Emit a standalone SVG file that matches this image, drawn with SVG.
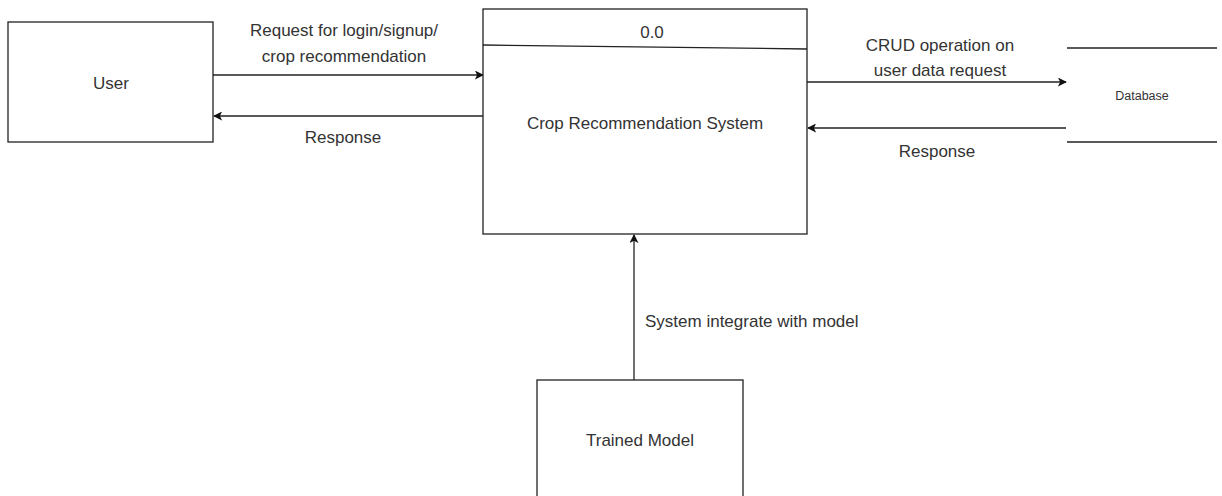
<svg xmlns="http://www.w3.org/2000/svg" width="1222" height="496" viewBox="0 0 1222 496">
<style>
.box{fill:#fff;stroke:#222;stroke-width:1.3}
.ln{stroke:#222;stroke-width:1.3;fill:none}
.t{font-family:"Liberation Sans",Arial,sans-serif;font-size:17px;fill:#333;text-anchor:middle}
.s{font-size:12.5px}
</style>
<defs>
<marker id="ah" viewBox="0 0 10 10" refX="9" refY="5" markerWidth="9" markerHeight="9" markerUnits="userSpaceOnUse" orient="auto">
<path d="M0,0 L10,5 L0,10 L2.5,5 Z" fill="#111"/>
</marker>
</defs>
<rect width="1222" height="496" fill="#fff"/>
<g id="connectors">
<line class="ln" x1="213" y1="75" x2="483" y2="75" marker-end="url(#ah)"/>
<line class="ln" x1="483" y1="116" x2="214" y2="116" marker-end="url(#ah)"/>
<line class="ln" x1="807" y1="82" x2="1066" y2="82" marker-end="url(#ah)"/>
<line class="ln" x1="1066" y1="128" x2="808" y2="128" marker-end="url(#ah)"/>
<line class="ln" x1="634" y1="380" x2="634" y2="235" marker-end="url(#ah)"/>
<text class="t" x="344" y="36">Request for login/signup/</text>
<text class="t" x="344" y="62">crop recommendation</text>
<text class="t" x="343" y="143">Response</text>
<text class="t" x="940" y="51">CRUD operation on</text>
<text class="t" x="940" y="76">user data request</text>
<text class="t" x="937" y="157">Response</text>
<text class="t" x="645" y="327" style="text-anchor:start">System integrate with model</text>
</g>
<g id="user">
<rect class="box" x="8" y="22" width="205" height="120"/>
<text class="t" x="111" y="89">User</text>
</g>
<g id="system">
<rect class="box" x="483" y="9" width="324" height="225"/>
<line class="ln" x1="483" y1="45" x2="807" y2="49"/>
<text class="t" x="652" y="38">0.0</text>
<text class="t" x="645" y="129">Crop Recommendation System</text>
</g>
<g id="database">
<line class="ln" x1="1067" y1="48" x2="1217" y2="48"/>
<line class="ln" x1="1067" y1="142" x2="1217" y2="142"/>
<text class="t s" x="1142" y="100">Database</text>
</g>
<g id="trained-model">
<rect class="box" x="537" y="380" width="206" height="130"/>
<text class="t" x="640" y="446">Trained Model</text>
</g>
</svg>
